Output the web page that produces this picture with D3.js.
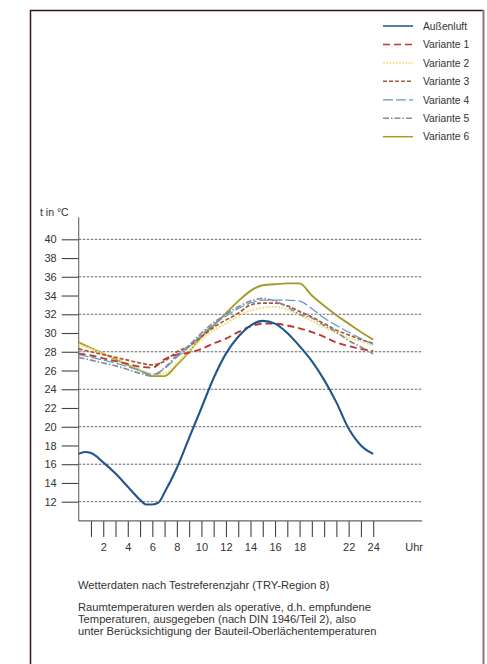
<!DOCTYPE html>
<html><head><meta charset="utf-8">
<script src="https://cdn.jsdelivr.net/npm/d3@7"></script>
<style>
html,body{margin:0;padding:0;background:#fff;}
svg{display:block;font-family:"Liberation Sans",Arial,sans-serif;}
</style></head>
<body>
<svg id="c" width="487" height="664"></svg>
<script>
const hours = d3.range(0, 25);
const outdoorHours = [0,0.5,1,2,3,4,5,5.5,6,6.5,7,8,9,10,11,12,13,14,15,16,17,18,19,20,21,22,23,24];
const aussenluft = [17.1,17.3,17.2,16.2,15.0,13.6,12.2,11.7,11.7,11.9,13.0,15.6,18.8,22.0,25.2,27.8,29.6,30.8,31.3,31.0,30.0,28.6,27.0,25.0,22.6,19.8,18.0,17.1];
const variante1 = [27.8,27.6,27.3,27.0,26.7,26.4,26.3,27.2,27.7,27.9,28.3,28.9,29.4,30.1,30.7,31.0,31.0,30.8,30.5,30.1,29.6,29.0,28.6,28.3,28.1];
const variante2 = [28.8,28.3,27.8,27.3,26.7,26.1,25.6,25.7,26.8,28.1,29.3,30.3,31.0,31.8,32.4,32.7,32.8,32.5,31.9,31.3,30.6,30.0,29.5,29.1,28.7];
const variante3 = [28.3,28.0,27.7,27.4,27.1,26.8,26.6,27.0,28.0,28.6,29.6,30.6,31.4,32.1,33.0,33.2,33.2,32.9,32.3,31.7,31.0,30.3,29.8,29.3,28.9];
const variante4 = [27.7,27.4,27.1,26.8,26.4,26.0,25.6,26.2,27.4,28.5,29.8,30.9,31.8,32.6,33.2,33.5,33.5,33.5,33.4,32.6,31.6,30.8,30.1,29.4,28.8];
const variante5 = [27.4,27.1,26.8,26.5,26.1,25.7,25.4,26.3,27.6,28.7,30.0,31.1,32.0,32.8,33.4,33.7,33.4,32.8,32.0,31.6,30.8,30.1,29.2,28.5,27.8];
const variante6 = [29.0,28.4,27.8,27.2,26.6,26.0,25.4,25.4,26.6,28.0,29.6,30.8,32.1,33.4,34.5,35.1,35.2,35.3,35.3,34.0,32.9,31.9,31.0,30.1,29.3];
const seriesNames = ["Außenluft","Variante 1","Variante 2","Variante 3","Variante 4","Variante 5","Variante 6"];
const yTicks = d3.range(12, 41, 2);
const yGrid = [12,16,20,24,28,32,36,40];
const xTicks = d3.range(1, 25);
const xLabels = [2,4,6,8,10,12,14,16,18,22,24];
const footer1 = "Wetterdaten nach Testreferenzjahr (TRY-Region 8)";
const footer2 = ["Raumtemperaturen werden als operative, d.h. empfundene","Temperaturen, ausgegeben (nach DIN 1946/Teil 2), also","unter Berücksichtigung der Bauteil-Oberlächentemperaturen"];

const styles = [
  {color:"#21568a", w:2.1, dash:null},
  {color:"#b83a32", w:1.9, dash:"7,4"},
  {color:"#f3e07a", w:1.9, dash:"2,1.2"},
  {color:"#a5583a", w:1.7, dash:"4,2"},
  {color:"#5e97cc", w:1.2, dash:"10,3"},
  {color:"#8a8c98", w:1.7, dash:"6,2,1.5,2"},
  {color:"#a59a2c", w:1.9, dash:null}
];

const svg = d3.select("#c");
// frame
svg.append("path").attr("d","M30.5,664 V10.5 H483.5").attr("fill","none").attr("stroke","#3b1414").attr("stroke-width",1.5);
svg.append("line").attr("x1",483.5).attr("x2",483.5).attr("y1",10).attr("y2",664).attr("stroke","#8d7676").attr("stroke-width",2);

const x = d3.scaleLinear().domain([0,24]).range([78.7,373.2]);
const y = d3.scaleLinear().domain([12,40]).range([501.7,239.3]);
const gridRight = 422;

// gridlines
svg.append("g").selectAll("line").data(yGrid).join("line")
  .attr("x1",x(0)).attr("x2",gridRight).attr("y1",d=>y(d)).attr("y2",d=>y(d))
  .attr("stroke","#555").attr("stroke-width",0.9).attr("stroke-dasharray","2.5,1.5");

// y axis
const yAxis = svg.append("g").attr("transform",`translate(${x(0)},0)`)
  .call(d3.axisLeft(y).tickValues(yTicks).tickSize(17).tickPadding(5).tickFormat(d3.format("d")));
yAxis.select(".domain").remove();
yAxis.selectAll(".tick line").attr("stroke","#444").attr("stroke-width",1.1);
yAxis.selectAll(".tick text").attr("fill","#333").style("font-size","11px").style("font-family","'Liberation Sans',Arial,sans-serif");
svg.append("line").attr("x1",x(0)).attr("x2",x(0)).attr("y1",y(42.35)).attr("y2",y(9.95)).attr("stroke","#666").attr("stroke-width",1.1);

// x axis
const xAxis = svg.append("g").attr("transform",`translate(0,${y(9.95)})`)
  .call(d3.axisBottom(x).tickValues(xTicks).tickSize(16).tickPadding(6.5).tickFormat(d=>xLabels.includes(d)?d:""));
xAxis.select(".domain").remove();
xAxis.selectAll(".tick line").attr("stroke","#444").attr("stroke-width",1.1);
xAxis.selectAll(".tick text").attr("fill","#333").style("font-size","11px").style("font-family","'Liberation Sans',Arial,sans-serif");
svg.append("line").attr("x1",x(0)).attr("x2",gridRight).attr("y1",y(9.95)).attr("y2",y(9.95)).attr("stroke","#666").attr("stroke-width",1.1);

svg.append("text").attr("x",423).attr("y",y(9.95)+30).attr("text-anchor","end").attr("fill","#333").style("font-size","11px").text("Uhr");
svg.append("text").attr("x",40).attr("y",215.5).attr("fill","#333").style("font-size","10.5px").text("t in °C");

// lines
const line = d3.line().x(d=>x(d[0])).y(d=>y(d[1])).curve(d3.curveMonotoneX);
const data = [
  d3.zip(outdoorHours, aussenluft),
  d3.zip(hours, variante1),
  d3.zip(hours, variante2),
  d3.zip(hours, variante3),
  d3.zip(hours, variante4),
  d3.zip(hours, variante5),
  d3.zip(hours, variante6)
];
const order = [6,2,3,1,4,5,0];
order.forEach(i=>{
  svg.append("path").attr("d",line(data[i])).attr("fill","none")
    .attr("stroke",styles[i].color).attr("stroke-width",styles[i].w)
    .attr("stroke-dasharray",styles[i].dash).attr("stroke-linejoin","round");
});

// legend
const lg = svg.append("g");
seriesNames.forEach((n,i)=>{
  const ly = 26 + i*18.45;
  lg.append("line").attr("x1",383).attr("x2",413).attr("y1",ly).attr("y2",ly)
    .attr("stroke",styles[i].color).attr("stroke-width",Math.min(styles[i].w,1.5)).attr("stroke-dasharray",styles[i].dash);
  lg.append("text").attr("x",423).attr("y",ly+3.7).attr("fill","#333").style("font-size","10.3px").text(n);
});

// footer
svg.append("text").attr("x",78).attr("y",589).attr("fill","#333").style("font-size","11.2px").text(footer1);
footer2.forEach((t,i)=>{
  svg.append("text").attr("x",78).attr("y",610.5+i*12.3).attr("fill","#333").style("font-size","11.2px").text(t);
});
</script>
</body></html>
